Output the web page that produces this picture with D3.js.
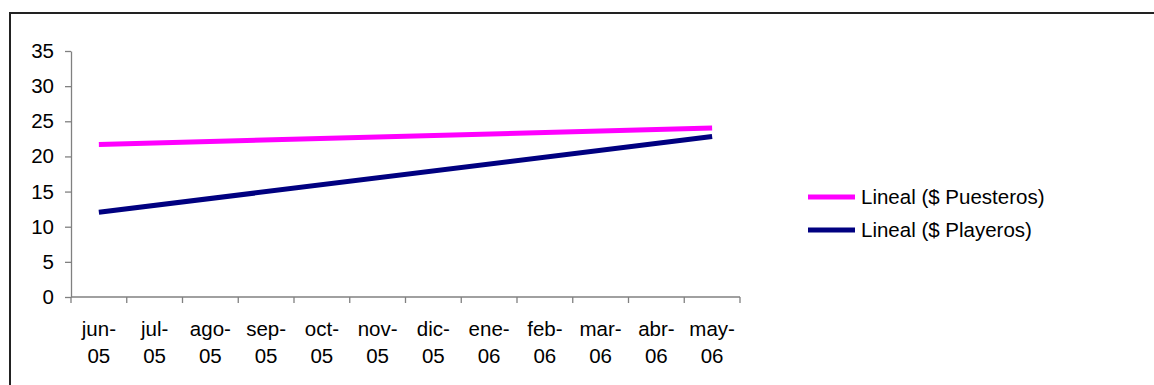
<!DOCTYPE html>
<html>
<head>
<meta charset="utf-8">
<script src="https://cdn.jsdelivr.net/npm/d3@7"></script>
<style>
  html, body { margin: 0; padding: 0; background: #fff; }
  svg { display: block; }
  text { font-family: Arial, "Liberation Sans", sans-serif; fill: #000; }
</style>
</head>
<body>
<svg id="chart" width="1154" height="385"></svg>
<script>
// Months on the category axis
const months = ["jun-05", "jul-05", "ago-05", "sep-05", "oct-05", "nov-05",
                "dic-05", "ene-06", "feb-06", "mar-06", "abr-06", "may-06"];
// Y axis ticks
const yTicks = [0, 5, 10, 15, 20, 25, 30, 35];
// Linear trend lines: value at first and last month
const trendMonths = ["jun-05", "may-06"];
const puesteros = [21.7, 24.05];
const playeros = [12.05, 22.85];

const seriesNames = ["Lineal ($ Puesteros)", "Lineal ($ Playeros)"];
const seriesColors = ["#ff00ff", "#000080"];
const seriesValues = [puesteros, playeros];

const svg = d3.select("#chart");

// outer chart frame
svg.append("rect")
  .attr("x", 10).attr("y", 13)
  .attr("width", 1160).attr("height", 400)
  .attr("fill", "none").attr("stroke", "#222").attr("stroke-width", 2);

const x = d3.scaleBand().domain(months).range([71, 740]).padding(0);
const y = d3.scaleLinear().domain([0, 35]).range([297, 51]);

const fontSize = 20.5;

// Y axis
const yAxis = svg.append("g")
  .attr("transform", "translate(71,0)")
  .call(d3.axisLeft(y).tickValues(yTicks).tickSize(6).tickSizeOuter(0).tickPadding(11));
yAxis.select(".domain").attr("stroke", "#808080").attr("stroke-width", 1.3);
yAxis.selectAll(".tick line").attr("stroke", "#808080").attr("stroke-width", 1.3);
yAxis.selectAll(".tick text")
  .attr("font-size", fontSize).attr("font-family", "Arial, 'Liberation Sans', sans-serif")
  .attr("fill", "#000");

// X axis: ticks at band boundaries, labels at band centres
const xg = svg.append("g").attr("transform", "translate(0,297)");
xg.append("line")
  .attr("x1", x.range()[0]).attr("x2", x.range()[1])
  .attr("stroke", "#808080").attr("stroke-width", 1.3);
const bounds = months.map(m => x(m)).concat([x.range()[1]]);
xg.selectAll("line.tk").data(bounds).join("line")
  .attr("class", "tk")
  .attr("x1", d => d).attr("x2", d => d)
  .attr("y1", 0).attr("y2", 6)
  .attr("stroke", "#808080").attr("stroke-width", 1.3);
const lbl = xg.selectAll("text.lbl").data(months).join("text")
  .attr("class", "lbl")
  .attr("text-anchor", "middle")
  .attr("font-size", fontSize)
  .attr("x", d => x(d) + x.bandwidth() / 2);
lbl.append("tspan")
  .attr("x", d => x(d) + x.bandwidth() / 2)
  .attr("y", 39)
  .text(d => d.split("-")[0] + "-");
lbl.append("tspan")
  .attr("x", d => x(d) + x.bandwidth() / 2)
  .attr("y", 66)
  .text(d => d.split("-")[1]);

// Trend lines
const line = d3.line()
  .x(d => x(d.m) + x.bandwidth() / 2)
  .y(d => y(d.v));

seriesValues.forEach((vals, i) => {
  const pts = trendMonths.map((m, j) => ({ m, v: vals[j] }));
  svg.append("path")
    .datum(pts)
    .attr("d", line)
    .attr("fill", "none")
    .attr("stroke", seriesColors[i])
    .attr("stroke-width", 5);
});

// Legend
const legend = svg.append("g").attr("transform", "translate(808,197)");
seriesNames.forEach((name, i) => {
  const g = legend.append("g").attr("transform", `translate(0,${i * 33})`);
  g.append("line")
    .attr("x1", 0).attr("x2", 47).attr("y1", 0).attr("y2", 0)
    .attr("stroke", seriesColors[i]).attr("stroke-width", 5);
  g.append("text")
    .attr("x", 53).attr("y", 0).attr("dy", "0.36em")
    .attr("font-size", fontSize)
    .text(name);
});
</script>
</body>
</html>
